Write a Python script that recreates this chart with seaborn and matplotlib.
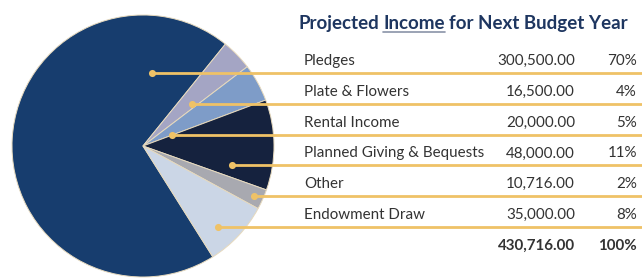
import numpy as np
import matplotlib
matplotlib.use("Agg")
import matplotlib.pyplot as plt
import seaborn as sns

# data
categories = ["Pledges", "Plate & Flowers", "Rental Income",
              "Planned Giving & Bequests", "Other", "Endowment Draw"]
amounts = [300500.00, 16500.00, 20000.00, 48000.00, 10716.00, 35000.00]
pct_labels = ["70%", "4%", "5%", "11%", "2%", "8%"]
total_label = "430,716.00"
total_pct = "100%"
title_parts = ["Projected", "Income", "for Next Budget Year"]

colors = ["#173d6e", "#a4a5c4", "#7e9cc8", "#15223e", "#a8a9b0", "#cbd6e6"]
gold = "#efc267"
text_col = "#333333"
navy = "#1e3660"

sns.set_theme(style="white")
plt.rcParams["font.family"] = ["Lato", "DejaVu Sans"]

W, H = 642, 278
fig = plt.figure(figsize=(W / 100, H / 100), dpi=100)
ax = fig.add_axes([0, 0, 1, 1])
renderer = fig.canvas.get_renderer()


def fit_size(s, width, weight="normal", base=12):
    # font size so that string s spans `width` pixels
    t = ax.text(0, 0, s, fontsize=base, fontweight=weight)
    w = t.get_window_extent(renderer).width
    t.remove()
    return base * width / w


cx, cy, r = 143, H - 146, 131
wedges, _ = ax.pie(amounts, colors=colors, startangle=-57.8, counterclock=False,
                   center=(cx, cy), radius=r,
                   wedgeprops=dict(edgecolor="#e6d9bd", linewidth=0.7))
ax.set_xlim(0, W)
ax.set_ylim(0, H)
ax.set_aspect("auto")
ax.axis("off")

# rows: leader lines double as table separators
row_y = [H - (73 + i * 30.8) for i in range(len(categories))]
dot_t = [0.7, 0.7, 0.9, 0.47, 0.7, 0.48]
xs = np.linspace(cx - r, cx + r, 2000)
for w, y, t in zip(wedges, row_y, dot_t):
    dx, dy = xs - cx, y - cy
    ang = np.degrees(np.arctan2(dy, dx))
    span = w.theta2 - w.theta1
    inside = ((ang - w.theta1) % 360 <= span) & (np.hypot(dx, dy) < r - 2)
    sel = xs[inside]
    x0 = sel.min() + t * (sel.max() - sel.min())
    ax.plot([x0, W], [y, y], color=gold, lw=2.0, solid_capstyle="butt", zorder=3)
    ax.scatter([x0], [y], s=26, color=gold, zorder=4, linewidths=0)

fs = min(fit_size("Planned Giving & Bequests", 180), 11.5)
for name, amt, pct, y in zip(categories, amounts, pct_labels, row_y):
    ty = y + 5
    ax.text(304, ty, name, fontsize=fs, color=text_col, va="bottom", ha="left")
    ax.text(575, ty, f"{amt:,.2f}", fontsize=fs, color=text_col, va="bottom", ha="right")
    ax.text(637, ty, pct, fontsize=fs, color=text_col, va="bottom", ha="right")

ty = row_y[-1] - 30.8 + 5
ax.text(575, ty, total_label, fontsize=fs, color=text_col, va="bottom", ha="right",
        fontweight="bold")
ax.text(637, ty, total_pct, fontsize=fs, color=text_col, va="bottom", ha="right",
        fontweight="bold")

# title with underlined middle word
tfs = min(fit_size(" ".join(title_parts), 330, "bold"), 15)
tx, tyy = 298, H - 29
inv = ax.transData.inverted()
sp = ax.text(0, 0, "a a", fontsize=tfs, fontweight="bold")
sp2 = ax.text(0, 0, "aa", fontsize=tfs, fontweight="bold")
space = sp.get_window_extent(renderer).width - sp2.get_window_extent(renderer).width
sp.remove()
sp2.remove()
x = tx
for i, part in enumerate(title_parts):
    txt = ax.text(x, tyy, part, fontsize=tfs, fontweight="bold", color=navy,
                  va="baseline", ha="left")
    bb = txt.get_window_extent(renderer)
    x1 = inv.transform((bb.x1, bb.y0))[0]
    if i == 1:
        ax.plot([x, x1], [tyy - 3, tyy - 3], color="#8a93a8", lw=1.2)
    x = x1 + space

fig.savefig("out.png", dpi=100)
